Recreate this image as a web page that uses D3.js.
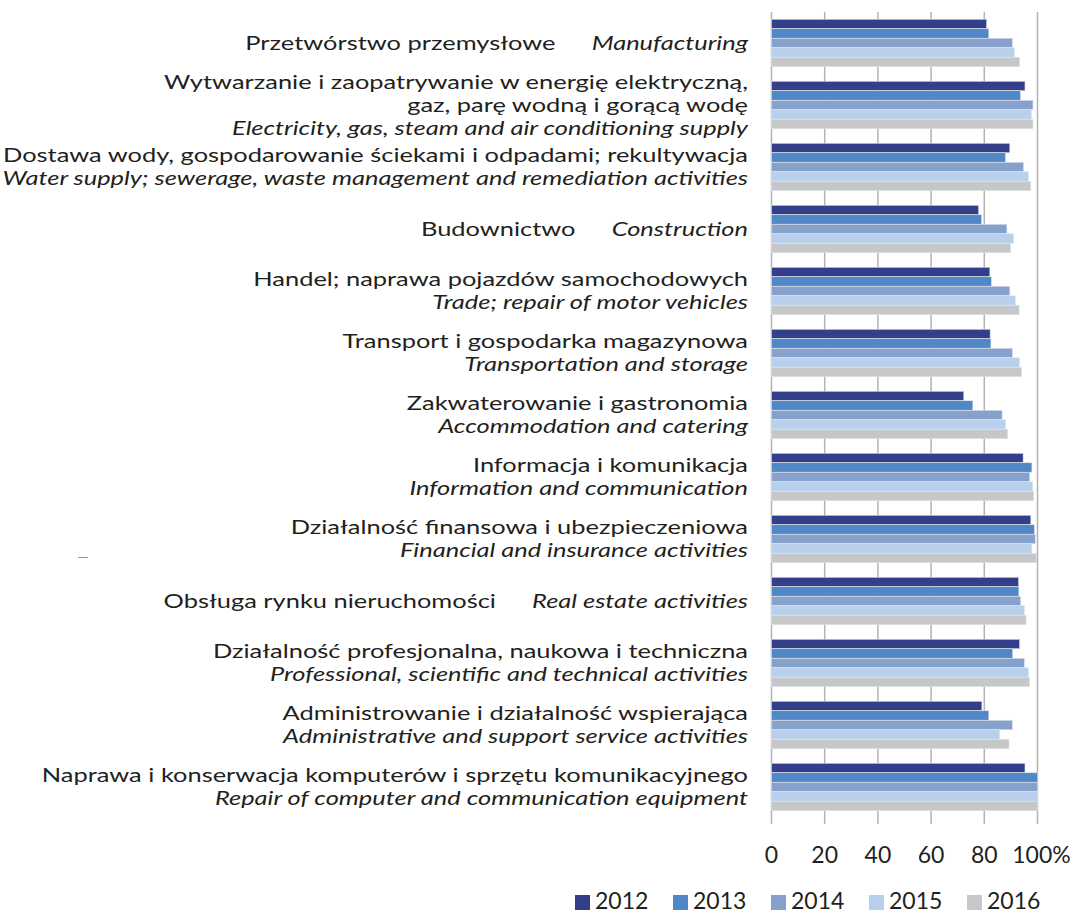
<!DOCTYPE html>
<html>
<head>
<meta charset="utf-8">
<script src="https://cdn.jsdelivr.net/npm/d3@7"></script>
<style>
  html, body { margin: 0; padding: 0; background: #ffffff; }
  svg { display: block; }
  text { font-family: Lato, "Open Sans", sans-serif; fill: #231f20; }
</style>
</head>
<body>
<svg id="chart" width="1074" height="914"></svg>
<script>
// ---------- data ----------
const categoriesPL = [
  ["Przetwórstwo przemysłowe"],
  ["Wytwarzanie i zaopatrywanie w energię elektryczną,", "gaz, parę wodną i gorącą wodę"],
  ["Dostawa wody, gospodarowanie ściekami i odpadami; rekultywacja"],
  ["Budownictwo"],
  ["Handel; naprawa pojazdów samochodowych"],
  ["Transport i gospodarka magazynowa"],
  ["Zakwaterowanie i gastronomia"],
  ["Informacja i komunikacja"],
  ["Działalność finansowa i ubezpieczeniowa"],
  ["Obsługa rynku nieruchomości"],
  ["Działalność profesjonalna, naukowa i techniczna"],
  ["Administrowanie i działalność wspierająca"],
  ["Naprawa i konserwacja komputerów i sprzętu komunikacyjnego"]
];
const categoriesEN = [
  "Manufacturing",
  "Electricity, gas, steam and air conditioning supply",
  "Water supply; sewerage, waste management and remediation activities",
  "Construction",
  "Trade; repair of motor vehicles",
  "Transportation and storage",
  "Accommodation and catering",
  "Information and communication",
  "Financial and insurance activities",
  "Real estate activities",
  "Professional, scientific and technical activities",
  "Administrative and support service activities",
  "Repair of computer and communication equipment"
];
// English label on the same line as the Polish one?
const sameLine = [true, false, false, true, false, false, false, false, false, true, false, false, false];

const years = ["2012", "2013", "2014", "2015", "2016"];
const v2012 = [80.9, 95.3, 89.6, 77.9, 82.1, 82.2, 72.3, 94.6, 97.5, 92.9, 93.3, 79.1, 95.3];
const v2013 = [81.7, 93.6, 88.0, 79.0, 82.7, 82.5, 75.7, 97.9, 98.8, 93.0, 90.7, 81.7, 100];
const v2014 = [90.6, 98.3, 94.8, 88.5, 89.6, 90.6, 86.7, 97.1, 99.2, 93.7, 95.1, 90.6, 100];
const v2015 = [91.3, 97.7, 96.6, 91.0, 91.7, 93.2, 88.0, 98.2, 97.9, 95.1, 96.6, 85.8, 100];
const v2016 = [93.3, 98.3, 97.5, 89.9, 93.1, 94.0, 88.8, 98.6, 99.7, 95.7, 97.0, 89.3, 100];
const seriesValues = [v2012, v2013, v2014, v2015, v2016];
const colors = ["#333f8a", "#5088c7", "#85a1cc", "#b9d0ec", "#c6c7c9"];
const xTicks = [0, 20, 40, 60, 80, 100];
const xTickLabels = ["0", "20", "40", "60", "80", "100%"];

// ---------- layout ----------
const svg = d3.select("#chart");
const pLeft = 771.5, pRight = 1037.5, pTop = 12, pBottom = 818;
const x = d3.scaleLinear().domain([0, 100]).range([pLeft, pRight]);
const idx = d3.range(categoriesEN.length);
const y = d3.scaleBand().domain(idx).range([pTop, pBottom]).paddingInner(0.234).paddingOuter(0.117);
const yInner = d3.scaleBand().domain(years).range([0, y.bandwidth()]);

// gridlines
svg.append("g")
  .selectAll("line")
  .data(xTicks)
  .join("line")
  .attr("x1", d => x(d)).attr("x2", d => x(d))
  .attr("y1", pTop).attr("y2", pBottom + 6)
  .attr("stroke", "#b3b3b3").attr("stroke-width", 1.5);

// bars
const groups = svg.append("g")
  .selectAll("g")
  .data(idx)
  .join("g")
  .attr("transform", i => `translate(0,${y(i)})`);

groups.selectAll("rect")
  .data(i => years.map((yr, s) => ({ yr, s, v: seriesValues[s][i] })))
  .join("rect")
  .attr("x", x(0))
  .attr("y", d => yInner(d.yr))
  .attr("width", d => x(d.v) - x(0))
  .attr("height", yInner.bandwidth())
  .attr("fill", d => colors[d.s])
  .attr("stroke", "#e4e6ec")
  .attr("stroke-width", 0.6);

// category labels
const fs = 19;
const lineH = 23;
const labelX = 748;
const labels = svg.append("g").attr("font-size", fs);
idx.forEach(i => {
  const cy = y(i) + y.bandwidth() / 2 + 2;
  if (sameLine[i]) {
    const t = labels.append("text")
      .attr("x", labelX).attr("y", cy)
      .attr("text-anchor", "end")
      .attr("dominant-baseline", "middle");
    t.append("tspan").text(categoriesPL[i][0]);
    t.append("tspan").attr("dx", 27).attr("font-style", "italic").text(categoriesEN[i]);
  } else {
    const lines = categoriesPL[i].map(s => ({ s, it: false })).concat([{ s: categoriesEN[i], it: true }]);
    const n = lines.length;
    lines.forEach((ln, k) => {
      labels.append("text")
        .attr("x", labelX)
        .attr("y", cy + (k - (n - 1) / 2) * lineH)
        .attr("text-anchor", "end")
        .attr("dominant-baseline", "middle")
        .attr("font-style", ln.it ? "italic" : null)
        .text(ln.s);
    });
  }
});

// fit label width: stretch horizontally so the longest line matches the reference width
const target = 746;
let maxW = 0;
labels.selectAll("text").each(function () { maxW = Math.max(maxW, this.getComputedTextLength()); });
if (maxW > 0) {
  const s = target / maxW;
  labels.attr("transform", `translate(${labelX},0) scale(${s},1) translate(${-labelX},0)`);
}

// x-axis tick labels
svg.append("g")
  .selectAll("text")
  .data(xTicks)
  .join("text")
  .attr("x", d => x(d) + (d === 100 ? 4 : 0))
  .attr("y", 857)
  .attr("text-anchor", "middle")
  .attr("dominant-baseline", "middle")
  .attr("font-size", 23)
  .text((d, k) => xTickLabels[k]);

// stray dash near left (present in original)
svg.append("line")
  .attr("x1", 78).attr("x2", 88).attr("y1", 557.5).attr("y2", 557.5)
  .attr("stroke", "#9a9a9a").attr("stroke-width", 1);

// legend
const legend = svg.append("g").attr("transform", "translate(575,895)");
const item = legend.selectAll("g")
  .data(years)
  .join("g")
  .attr("transform", (d, k) => `translate(${k * 98},0)`);
item.append("rect")
  .attr("width", 15).attr("height", 15)
  .attr("fill", (d, k) => colors[k]);
item.append("text")
  .attr("x", 20).attr("y", 8)
  .attr("dominant-baseline", "middle")
  .attr("font-size", 23)
  .text(d => d);
</script>
</body>
</html>
